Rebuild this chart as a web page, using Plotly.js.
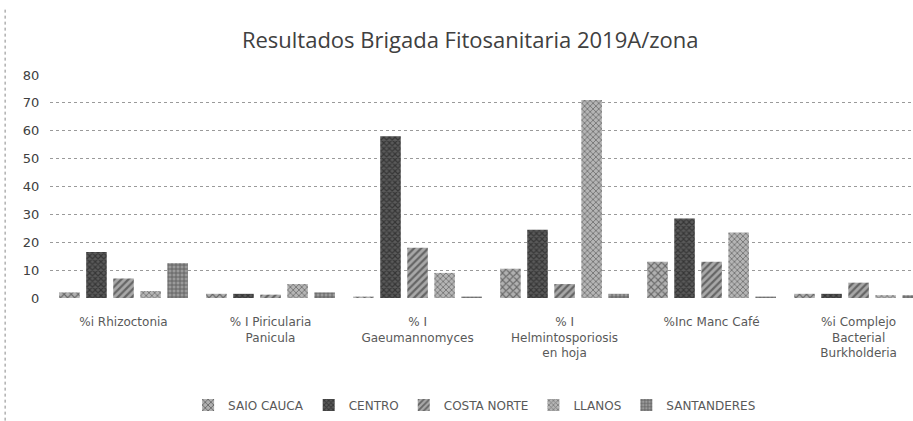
<!DOCTYPE html>
<html>
<head>
<meta charset="utf-8">
<script src="https://cdn.plot.ly/plotly-3.0.1.min.js"></script>
<style>html,body{margin:0;padding:0;background:#fff;}#chart{width:913px;height:421px;}</style>
</head>
<body>
<div id="chart"></div>
<script>
const categories = [
  "%i Rhizoctonia",
  "% I Piricularia<br>Panicula",
  "% I<br>Gaeumannomyces",
  "% I<br>Helmintosporiosis<br>en hoja",
  "%Inc Manc Café",
  "%i Complejo<br>Bacterial<br>Burkholderia"
];
const seriesNames = ["SAIO CAUCA", "CENTRO", "COSTA NORTE", "LLANOS", "SANTANDERES"];
const saioCauca   = [2, 1.5, 0.5, 10.5, 13, 1.5];
const centro      = [16.5, 1.5, 58, 24.5, 28.5, 1.5];
const costaNorte  = [7, 1.2, 18, 5, 13, 5.5];
const llanos      = [2.5, 5, 9, 71, 23.5, 1];
const santanderes = [12.5, 2, 0.5, 1.5, 0.5, 1];
const yTicks = [0, 10, 20, 30, 40, 50, 60, 70, 80];

const values = [saioCauca, centro, costaNorte, llanos, santanderes];
const styles = [
  {color: "#b0b0b0", shape: "x", fg: "#222", size: 5, solidity: 0.4},
  {color: "#5a5a5a", shape: "x", fg: "#111", size: 4, solidity: 0.5},
  {color: "#a8a8a8", shape: "/", fg: "#222", size: 5, solidity: 0.45},
  {color: "#b5b5b5", shape: "x", fg: "#333", size: 4, solidity: 0.4},
  {color: "#9a9a9a", shape: "+", fg: "#222", size: 4, solidity: 0.4}
];

const traces = seriesNames.map((name, i) => ({
  type: "bar",
  name: name,
  x: categories.map((c, j) => j),
  y: values[i],
  marker: {
    color: styles[i].color,
    pattern: {shape: styles[i].shape, fgcolor: styles[i].fg, bgcolor: styles[i].color,
              size: styles[i].size, solidity: styles[i].solidity, fillmode: "overlay"},
    line: {width: 0}
  },
  hoverinfo: "y+name"
}));

const layout = {
  width: 913, height: 421,
  paper_bgcolor: "#fff", plot_bgcolor: "#fff",
  margin: {l: 50, r: 0, t: 75, b: 123},
  title: {text: "Resultados Brigada Fitosanitaria 2019A/zona",
          font: {family: "Open Sans, Noto Sans, sans-serif", size: 22, color: "#404040"},
          x: 0.515, xanchor: "center", y: 0.905, yanchor: "middle"},
  barmode: "group",
  bargap: 0.08,
  bargroupgap: 0.24,
  showlegend: true,
  legend: {orientation: "h", x: 0.492, xanchor: "center", y: -0.48, yanchor: "middle",
           font: {family: "DejaVu Sans, sans-serif", size: 12, color: "#595959"},
           itemwidth: 30, traceorder: "normal"},
  xaxis: {
    range: [-0.5, 5.37],
    tickmode: "array",
    tickvals: categories.map((c, j) => j),
    ticktext: categories,
    tickangle: 0,
    showgrid: false, zeroline: false, showline: false,
    ticks: "",
    ticklabelstandoff: 15,
    tickfont: {family: "DejaVu Sans, sans-serif", size: 12, color: "#595959"}
  },
  yaxis: {
    range: [0, 80],
    tickmode: "array",
    tickvals: yTicks,
    showgrid: true, gridcolor: "#9a9a9a", griddash: "dot", gridwidth: 1,
    zeroline: false, showline: false,
    ticks: "outside", ticklen: 7, tickcolor: "rgba(0,0,0,0)",
    tickfont: {family: "DejaVu Sans, sans-serif", size: 13, color: "#404040"}
  },
  shapes: [{type: "line", xref: "paper", yref: "paper", x0: -0.052, x1: -0.052, y0: -0.55, y1: 1.3,
            line: {color: "#888", width: 1, dash: "dot"}}]
};

Plotly.newPlot("chart", traces, layout, {displayModeBar: false, staticPlot: true});
</script>
</body>
</html>
